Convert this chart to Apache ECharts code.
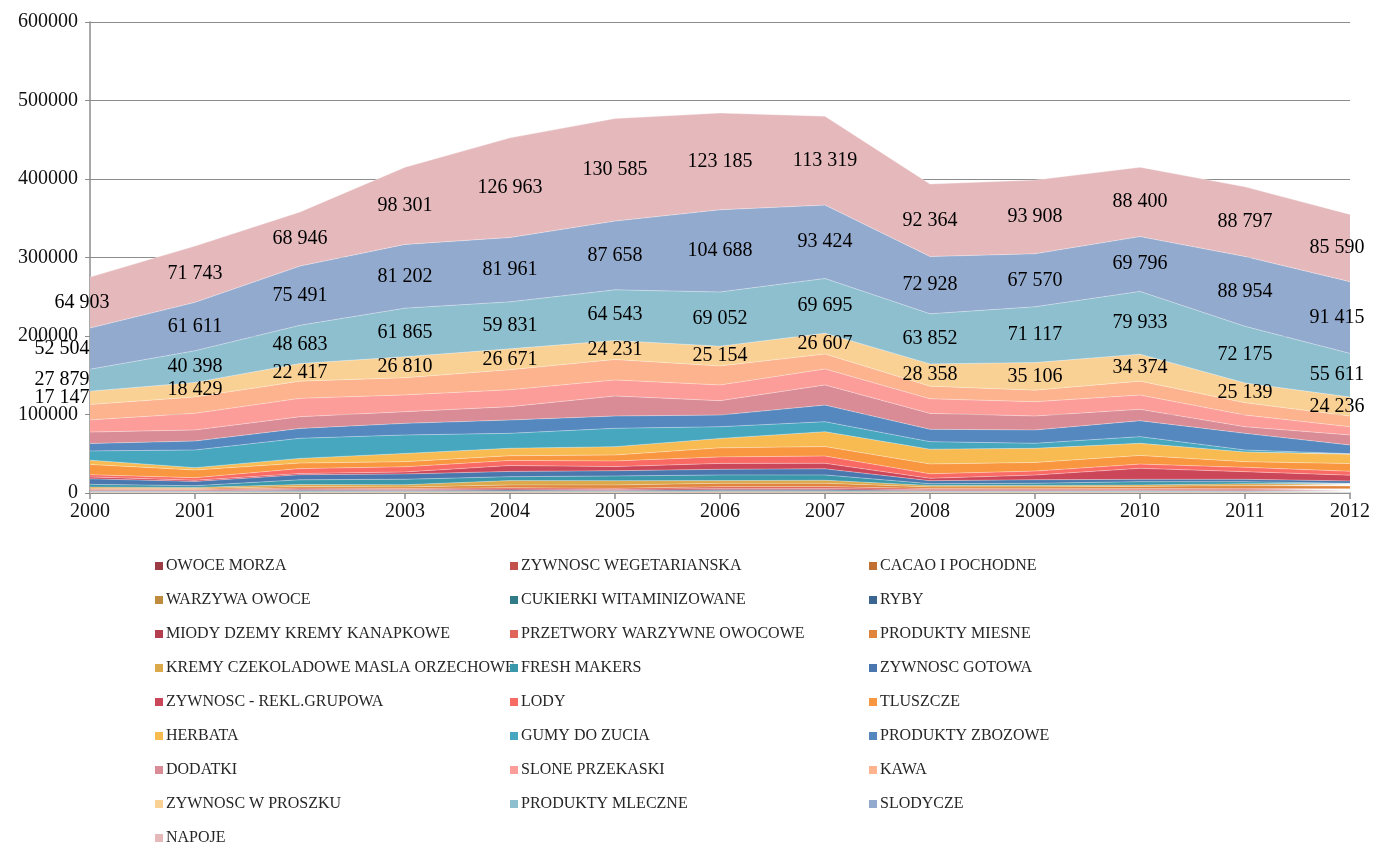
<!DOCTYPE html>
<html>
<head>
<meta charset="utf-8">
<script src="https://cdn.jsdelivr.net/npm/echarts@6/dist/echarts.min.js"></script>
<style>
  html, body { margin: 0; padding: 0; background: #fff; }
  #chart { width: 1380px; height: 843px; }
</style>
</head>
<body>
<div id="chart"></div>
<script>
// lata na osi X
const years = ['2000', '2001', '2002', '2003', '2004', '2005', '2006', '2007', '2008', '2009', '2010', '2011', '2012']
const yTicks = [0, 100000, 200000, 300000, 400000, 500000, 600000]

// wartosci (od dolu stosu do gory)
const owoceMorza = [300, 200, 300, 200, 200, 200, 200, 200, 200, 200, 200, 200, 100]
const zywnoscWegetarianska = [300, 200, 300, 200, 300, 300, 400, 300, 200, 200, 300, 200, 200]
const cacao = [400, 400, 500, 500, 600, 500, 600, 600, 500, 500, 500, 500, 400]
const warzywaOwoce = [500, 500, 600, 600, 700, 600, 800, 800, 600, 600, 600, 600, 500]
const cukierki = [600, 600, 800, 700, 800, 700, 900, 1000, 600, 600, 600, 600, 600]
const ryby = [900, 800, 1100, 1000, 1100, 900, 1200, 1300, 900, 900, 900, 900, 800]
const miody = [800, 800, 1200, 1100, 1300, 1200, 1500, 1500, 1000, 1000, 1000, 1100, 1000]
const przetwory = [900, 900, 1500, 1400, 1800, 1600, 2500, 2500, 1600, 1500, 1500, 1800, 1800]
const produktyMiesne = [1200, 1200, 2000, 2000, 3500, 4200, 4200, 4200, 2200, 2300, 2800, 3500, 3500]
const kremyCzekoladowe = [1600, 1500, 2500, 2800, 5500, 5500, 3500, 3800, 1800, 1800, 1800, 2500, 2000]
const freshMakers = [3500, 2200, 6000, 7000, 5000, 6000, 7200, 6800, 2300, 2800, 4200, 2500, 1500]
const zywnoscGotowa = [7000, 5500, 6500, 6800, 6700, 6700, 7200, 7800, 3800, 4500, 3000, 3000, 3000]
const reklGrupowa = [2500, 1500, 1500, 2500, 7500, 5200, 7500, 7000, 3000, 6000, 14000, 9800, 7300]
const lody = [2800, 3200, 6300, 6600, 6500, 7300, 8300, 9300, 5800, 5000, 5400, 5500, 5000]
const tluszcze = [13000, 9800, 7000, 6500, 6000, 7500, 11500, 12000, 12500, 11000, 11000, 7200, 9800]
const herbata = [5500, 3000, 6000, 10500, 9500, 10600, 12000, 19000, 18800, 18000, 15500, 12400, 11800]
const gumy = [11800, 22500, 25600, 23500, 19000, 23400, 14900, 12700, 9600, 6400, 8500, 2500, 800]
const produktyZbozowe = [9500, 11400, 12600, 14800, 17000, 15700, 14900, 21200, 15700, 17000, 20300, 21200, 11000]
const dodatki = [14500, 14100, 14900, 14900, 17000, 25500, 18300, 25600, 20300, 17800, 14500, 8400, 12800]
const slonePrzekaski = [15500, 21200, 23400, 21400, 21500, 20400, 20000, 20400, 18600, 18200, 18200, 14900, 10500]
const kawa = [19500, 20900, 21900, 21800, 25500, 26000, 24300, 19000, 16100, 14700, 17700, 15700, 13600]
const zywnoscWProszku = [17147, 18429, 22417, 26810, 26671, 24231, 25154, 26607, 28358, 35106, 34374, 25139, 24236]
const produktyMleczne = [27879, 40398, 48683, 61865, 59831, 64543, 69052, 69695, 63852, 71117, 79933, 72175, 55611]
const slodycze = [52504, 61611, 75491, 81202, 81961, 87658, 104688, 93424, 72928, 67570, 69796, 88954, 91415]
const napoje = [64903, 71743, 68946, 98301, 126963, 130585, 123185, 113319, 92364, 93908, 88400, 88797, 85590]

const layers = [
  ['OWOCE MORZA', owoceMorza, '#9b3b45'],
  ['ZYWNOSC WEGETARIANSKA', zywnoscWegetarianska, '#c24f4b'],
  ['CACAO I POCHODNE', cacao, '#c0702f'],
  ['WARZYWA OWOCE', warzywaOwoce, '#bd8c3c'],
  ['CUKIERKI WITAMINIZOWANE', cukierki, '#2f7c88'],
  ['RYBY', ryby, '#3a6591'],
  ['MIODY DZEMY KREMY KANAPKOWE', miody, '#b43d50'],
  ['PRZETWORY WARZYWNE OWOCOWE', przetwory, '#e0645a'],
  ['PRODUKTY MIESNE', produktyMiesne, '#e0853b'],
  ['KREMY CZEKOLADOWE MASLA ORZECHOWE', kremyCzekoladowe, '#dba84a'],
  ['FRESH MAKERS', freshMakers, '#3b98ab'],
  ['ZYWNOSC GOTOWA', zywnoscGotowa, '#4a78ae'],
  ['ZYWNOSC - REKL.GRUPOWA', reklGrupowa, '#cc4659'],
  ['LODY', lody, '#fa6a64'],
  ['TLUSZCZE', tluszcze, '#f99640'],
  ['HERBATA', herbata, '#f8bb52'],
  ['GUMY DO ZUCIA', gumy, '#46a7be'],
  ['PRODUKTY ZBOZOWE', produktyZbozowe, '#5588bf'],
  ['DODATKI', dodatki, '#d98c95'],
  ['SLONE PRZEKASKI', slonePrzekaski, '#fc9d9a'],
  ['KAWA', kawa, '#fcb38e'],
  ['ZYWNOSC W PROSZKU', zywnoscWProszku, '#fad194'],
  ['PRODUKTY MLECZNE', produktyMleczne, '#8ebfcf'],
  ['SLODYCZE', slodycze, '#93aacf'],
  ['NAPOJE', napoje, '#e5b9bc'],
]
// podpisy tylko dla 4 gornych warstw
const labelled = ['ZYWNOSC W PROSZKU', 'PRODUKTY MLECZNE', 'SLODYCZE', 'NAPOJE']

const FONT = 'Liberation Serif'
const fmt = (v) => String(v).replace(/\B(?=(\d{3})+(?!\d))/g, ' ')

const series = []
const cum = years.map(() => 0)
layers.forEach(([name, values, color]) => {
  series.push({
    name,
    type: 'line',
    stack: 'total',
    data: values,
    symbol: 'none',
    color,
    itemStyle: {color},
    lineStyle: {width: 0.6, color: 'rgba(255,255,255,0.55)'},
    areaStyle: {color, opacity: 1},
    emphasis: {disabled: true},
    silent: true,
  })
  if (labelled.includes(name)) {
    // etykieta w srodku pasma
    const mids = values.map((v, i) => {
      const item = {value: cum[i] + v / 2, raw: v}
      if (i === 0) item.label = {offset: [name === 'NAPOJE' ? -8 : -28, 0]}
      if (i === years.length - 1) item.label = {offset: [-13, 0]}
      return item
    })
    series.push({
      name: name + '_lbl',
      type: 'scatter',
      data: mids,
      symbolSize: 0,
      silent: true,
      z: 10,
      itemStyle: {opacity: 1, color: 'rgba(0,0,0,0)'},
      label: {
        show: true,
        position: 'inside',
        color: '#000',
        opacity: 1,
        textBorderWidth: 0,
        fontFamily: FONT,
        fontSize: 20,
        formatter: (p) => fmt(p.data.raw)
      }
    })
  }
  values.forEach((v, i) => { cum[i] += v })
})

const names = layers.map(l => l[0])
const legendCol = (idx, left) => ({
  orient: 'vertical',
  left,
  top: 558,
  height: 300,
  padding: 0,
  data: names.filter((n, i) => i % 3 === idx),
  icon: 'rect',
  itemWidth: 8,
  itemHeight: 8,
  itemGap: 18,
  selectedMode: false,
  textStyle: {fontFamily: FONT, fontSize: 16, color: '#262626', lineHeight: 16, padding: [0, 0, 0, -2]}
})

const chart = echarts.init(document.getElementById('chart'))
chart.setOption({
  animation: false,
  backgroundColor: '#fff',
  grid: {left: 90, right: 30, top: 22, bottom: 350},
  legend: [legendCol(0, 155), legendCol(1, 510), legendCol(2, 869)],
  xAxis: {
    type: 'category',
    data: years,
    boundaryGap: false,
    axisLine: {lineStyle: {color: '#8c8c8c', width: 1.5}},
    axisTick: {show: true, length: 6, lineStyle: {color: '#8c8c8c', width: 1.5}},
    axisLabel: {fontFamily: FONT, fontSize: 20, color: '#111', margin: 9}
  },
  yAxis: {
    type: 'value',
    min: yTicks[0],
    max: yTicks[yTicks.length - 1],
    interval: yTicks[1] - yTicks[0],
    axisLine: {show: true, lineStyle: {color: '#8c8c8c', width: 1.5}},
    axisTick: {show: true, length: 5, lineStyle: {color: '#8c8c8c'}},
    splitLine: {lineStyle: {color: '#8c8c8c', width: 1}},
    axisLabel: {fontFamily: FONT, fontSize: 20, color: '#111', margin: 12, formatter: (v) => String(v)}
  },
  series
})
</script>
</body>
</html>
